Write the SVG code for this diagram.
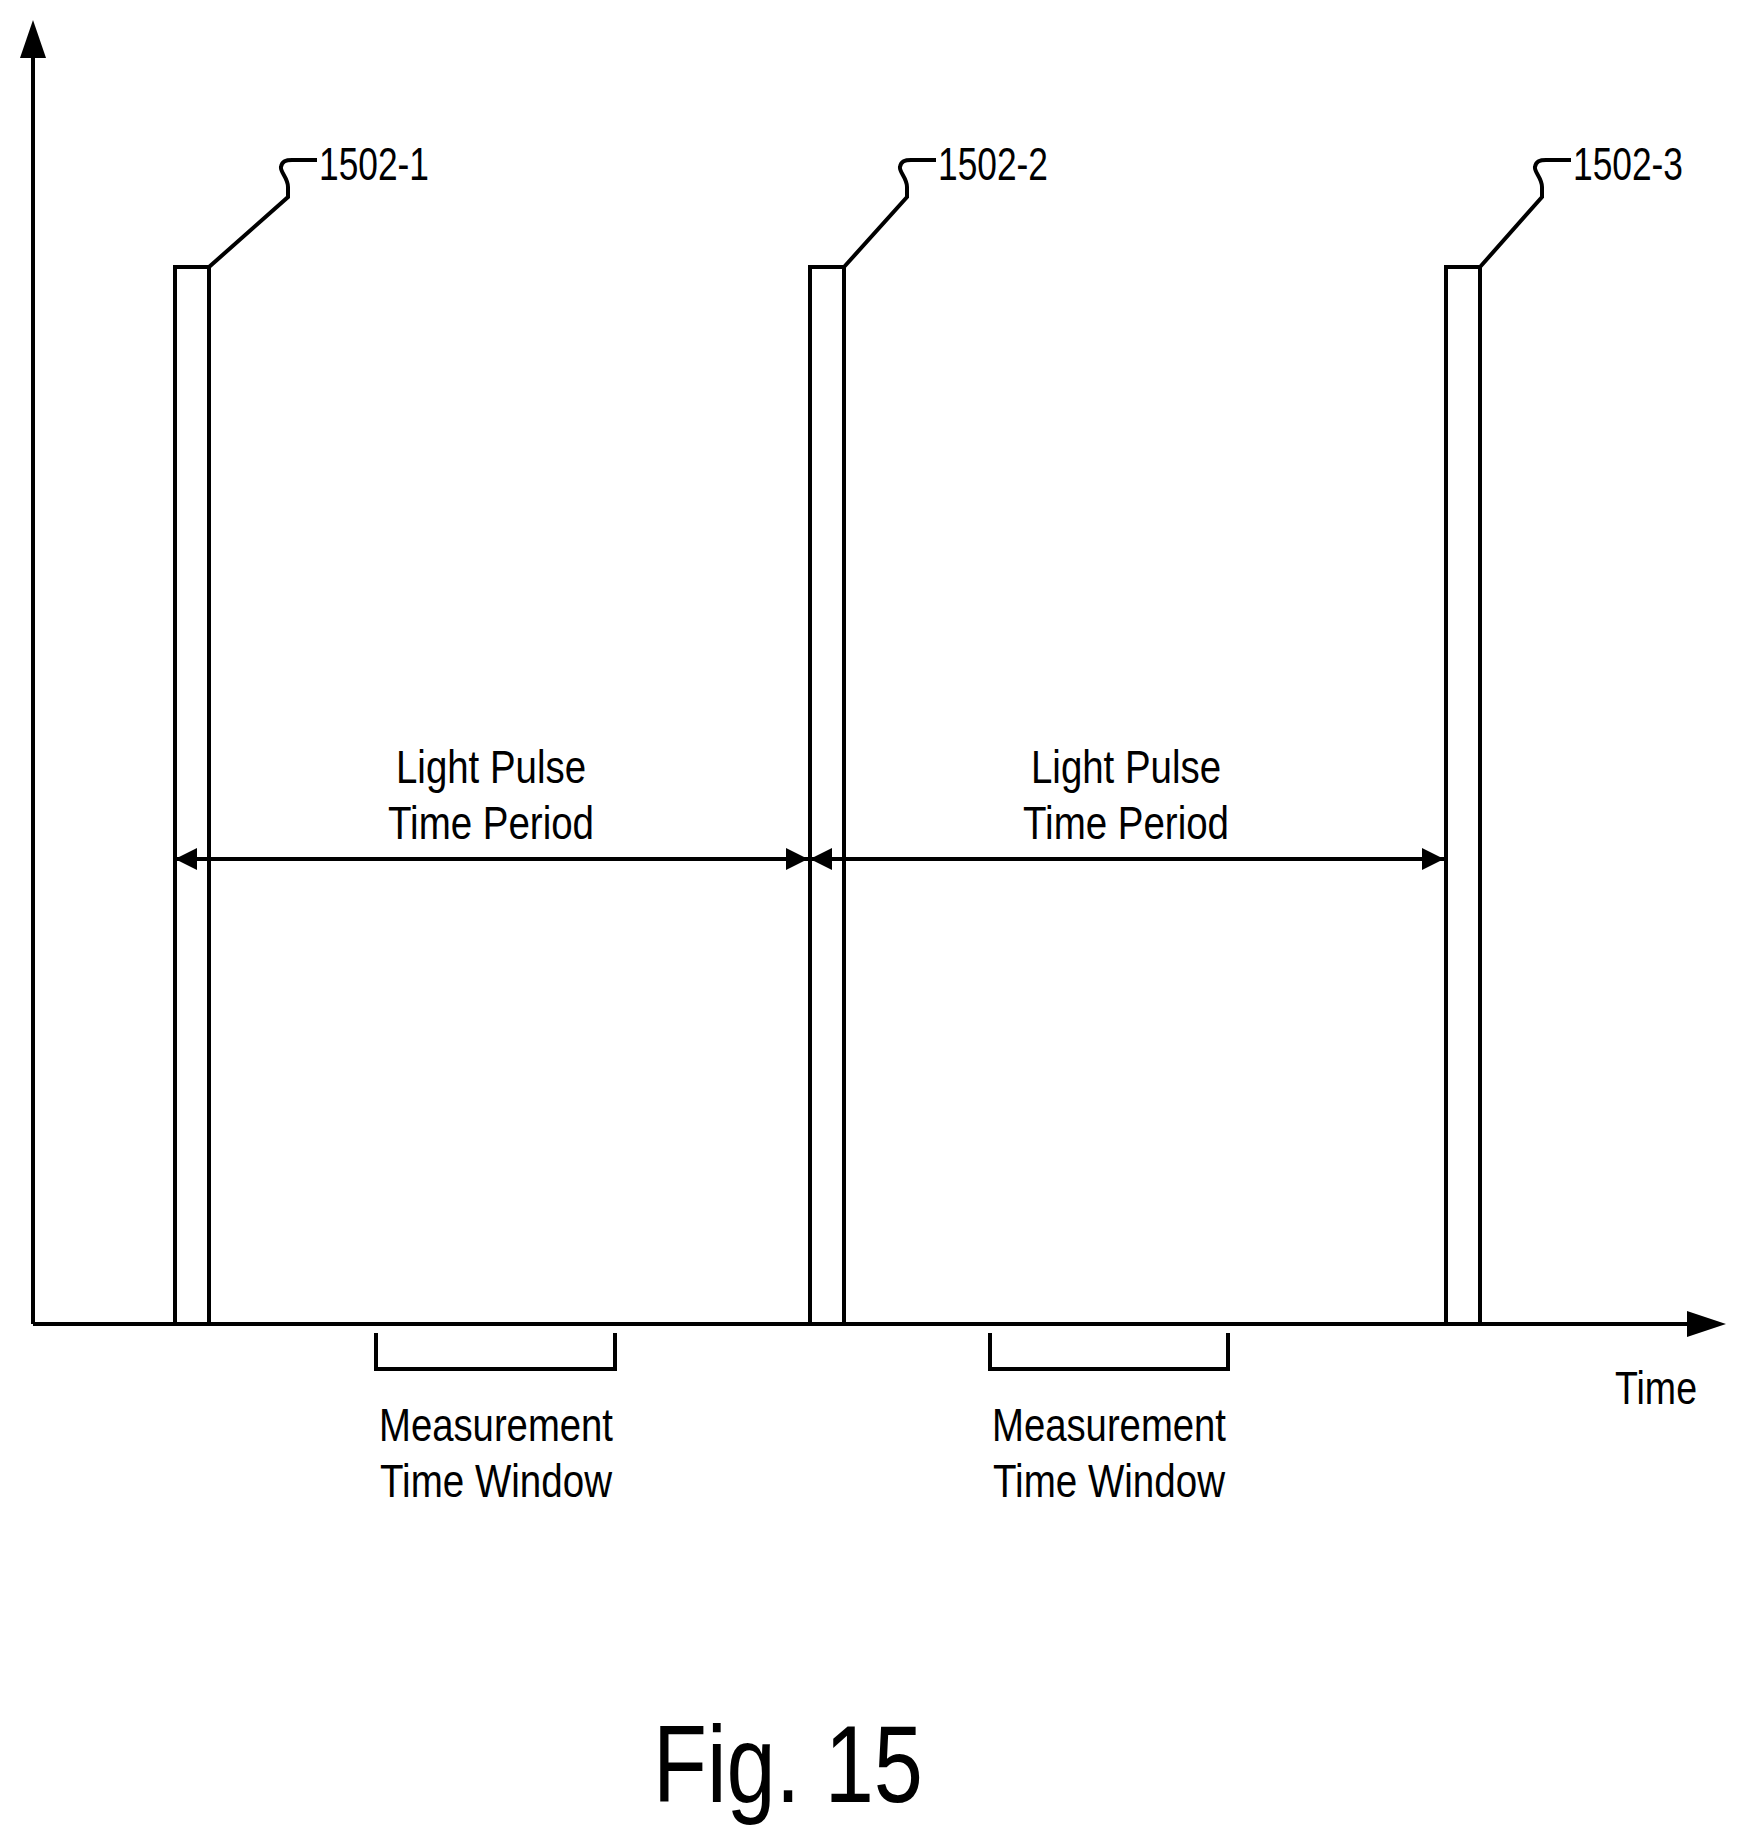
<svg xmlns="http://www.w3.org/2000/svg" width="1746" height="1837" viewBox="0 0 1746 1837">
<style>
.l{fill:none;stroke:#000;stroke-width:4}
.t{font-family:"Liberation Sans",Arial,sans-serif;font-size:46px;fill:#000}
</style>
<defs>
<marker id="ah" viewBox="0 0 10 10" refX="10" refY="5" markerWidth="28" markerHeight="22" markerUnits="userSpaceOnUse" orient="auto-start-reverse"><path d="M0,0L10,5L0,10z" fill="#000"/></marker>
</defs>
<rect width="1746" height="1837" fill="#fff"/>
<g id="axes">
<path class="l" d="M33,1324V55M33,1324H1690"/>
<path d="M33,20L20,58H46z"/>
<path d="M1726,1324L1687,1311V1337z"/>
<text class="t" x="1615" y="1404" textLength="82" lengthAdjust="spacingAndGlyphs">Time</text>
</g>
<g id="pulse1"><rect class="l" x="175" y="267" width="34" height="1057" stroke-width="4.5"/>
<path class="l" d="M209,267L288,197V187C288,178 280,172 281,167C282,161 286,160 292,160H317"/>
<text class="t" x="319" y="180" textLength="110" lengthAdjust="spacingAndGlyphs">1502-1</text></g>
<g id="pulse2"><rect class="l" x="810" y="267" width="34" height="1057" stroke-width="4.5"/>
<path class="l" d="M844,267L907,197V187C907,178 899,172 900,167C901,161 905,160 911,160H936"/>
<text class="t" x="938" y="180" textLength="110" lengthAdjust="spacingAndGlyphs">1502-2</text></g>
<g id="pulse3"><rect class="l" x="1446" y="267" width="34" height="1057" stroke-width="4.5"/>
<path class="l" d="M1480,267L1542,197V187C1542,178 1534,172 1535,167C1536,161 1540,160 1546,160H1571"/>
<text class="t" x="1573" y="180" textLength="110" lengthAdjust="spacingAndGlyphs">1502-3</text></g>
<g id="connectors">
<line class="l" x1="175" y1="859" x2="808" y2="859" stroke-width="3" marker-start="url(#ah)" marker-end="url(#ah)"/>
<line class="l" x1="810" y1="859" x2="1444" y2="859" stroke-width="3" marker-start="url(#ah)" marker-end="url(#ah)"/>
</g>
<g id="period1"><text class="t" x="491" y="783" text-anchor="middle" textLength="190" lengthAdjust="spacingAndGlyphs">Light Pulse</text>
<text class="t" x="491" y="839" text-anchor="middle" textLength="206" lengthAdjust="spacingAndGlyphs">Time Period</text></g>
<g id="period2"><text class="t" x="1126" y="783" text-anchor="middle" textLength="190" lengthAdjust="spacingAndGlyphs">Light Pulse</text>
<text class="t" x="1126" y="839" text-anchor="middle" textLength="206" lengthAdjust="spacingAndGlyphs">Time Period</text></g>
<g id="window1"><path class="l" d="M376,1333V1369H615V1333"/>
<text class="t" x="496" y="1441" text-anchor="middle" textLength="234" lengthAdjust="spacingAndGlyphs">Measurement</text>
<text class="t" x="496" y="1497" text-anchor="middle" textLength="232" lengthAdjust="spacingAndGlyphs">Time Window</text></g>
<g id="window2"><path class="l" d="M990,1333V1369H1228V1333"/>
<text class="t" x="1109" y="1441" text-anchor="middle" textLength="234" lengthAdjust="spacingAndGlyphs">Measurement</text>
<text class="t" x="1109" y="1497" text-anchor="middle" textLength="232" lengthAdjust="spacingAndGlyphs">Time Window</text></g>
<text class="t" x="788" y="1802" text-anchor="middle" style="font-size:110px" textLength="270" lengthAdjust="spacingAndGlyphs">Fig. 15</text>
</svg>
